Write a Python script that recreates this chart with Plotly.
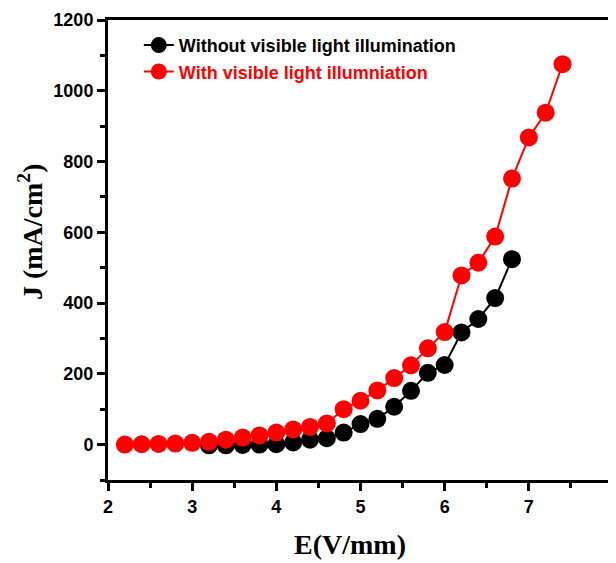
import plotly.graph_objects as go

# Data
e_dark = [3.2, 3.4, 3.6, 3.8, 4.0, 4.2, 4.4, 4.6, 4.8, 5.0, 5.2, 5.4, 5.6, 5.8, 6.0, 6.2, 6.4, 6.6, 6.8]
j_dark = [-2, -2, -1, 0, 1, 6, 14, 18, 34, 58, 73, 107, 152, 203, 225, 317, 355, 414, 524]

e_light = [2.2, 2.4, 2.6, 2.8, 3.0, 3.2, 3.4, 3.6, 3.8, 4.0, 4.2, 4.4, 4.6, 4.8, 5.0,
           5.2, 5.4, 5.6, 5.8, 6.0, 6.2, 6.4, 6.6, 6.8, 7.0, 7.2, 7.4]
j_light = [0, 1, 2, 3, 5, 8, 14, 20, 26, 34, 43, 50, 60, 100, 124,
           153, 188, 224, 272, 318, 478, 514, 588, 752, 868, 938, 1075]

name_dark = "Without visible light illumination"
name_light = "With visible light illumniation"

x_ticks = [2, 3, 4, 5, 6, 7, 8]
y_ticks = [0, 200, 400, 600, 800, 1000, 1200]

x_title = "E(V/mm)"
y_title = "J (mA/cm<sup>2</sup>)"

fig = go.Figure()
fig.add_trace(go.Scatter(
    x=e_dark, y=j_dark, mode="lines+markers",
    name=name_dark,
    line=dict(color="black", width=2),
    marker=dict(color="black", size=18),
))
fig.add_trace(go.Scatter(
    x=e_light, y=j_light, mode="lines+markers",
    name="<span style='color:red'>" + name_light + "</span>",
    line=dict(color="red", width=2),
    marker=dict(color="red", size=18),
))

axis_common = dict(
    showline=True, linecolor="black", linewidth=3, mirror=True,
    ticks="outside", ticklen=8, tickwidth=2.5, tickcolor="black",
    showgrid=False, zeroline=False, automargin=False,
    tickfont=dict(family="Liberation Sans", size=18, color="black", weight="bold"),
)

fig.update_xaxes(
    range=[2, 8], tickvals=x_ticks,
    minor=dict(ticks="outside", ticklen=5, tickwidth=2.5, tickcolor="black", dtick=0.5),
    **axis_common,
)
fig.update_yaxes(
    range=[-100, 1200], tickvals=y_ticks,
    minor=dict(ticks="outside", ticklen=5, tickwidth=2.5, tickcolor="black", dtick=100),
    **axis_common,
)

title_font = dict(family="Liberation Serif", size=28, color="black", weight="bold")
fig.add_annotation(
    text=x_title, xref="paper", yref="paper", x=0.479, y=0, yshift=-64,
    xanchor="center", yanchor="middle", showarrow=False, font=title_font,
)
fig.add_annotation(
    text=y_title, xref="paper", yref="paper", x=0, xshift=-78, y=0.539,
    xanchor="center", yanchor="middle", textangle=-90, showarrow=False, font=title_font,
)

fig.update_layout(
    width=616, height=563,
    margin=dict(l=100, r=11, t=12, b=91),
    paper_bgcolor="white", plot_bgcolor="white",
    showlegend=True,
    legend=dict(
        x=0.061, y=0.985, xanchor="left", yanchor="top",
        bgcolor="rgba(0,0,0,0)",
        font=dict(family="Liberation Sans", size=18, weight="bold", color="black"),
        tracegroupgap=0,
    ),
)

fig.write_html("out.html")
